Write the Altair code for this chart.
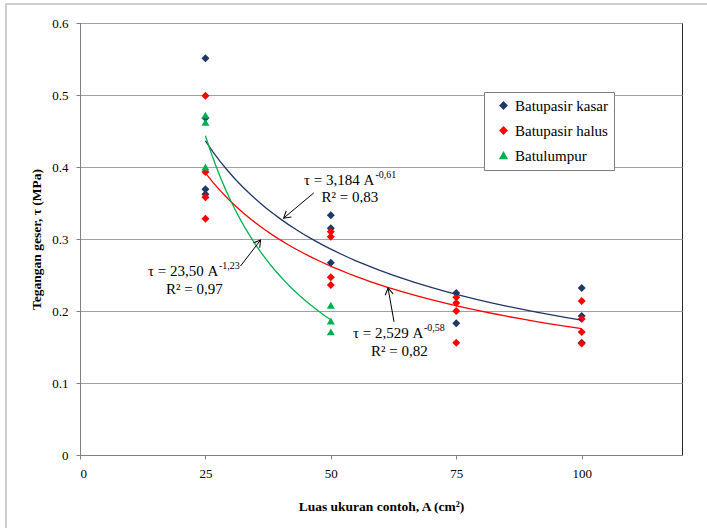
import math
import altair as alt
import pandas as pd

# ---------------- data ----------------
series_names = ["Batupasir kasar", "Batupasir halus", "Batulumpur"]
series_colors = ["#1F3864", "#FF0000", "#00B050"]
series_shapes = ["diamond", "diamond", "triangle-up"]

kasar_A = [25, 25, 25, 25, 50, 50, 50, 75, 75, 100, 100, 100]
kasar_tau = [0.551, 0.468, 0.369, 0.362, 0.333, 0.315, 0.267, 0.225, 0.183, 0.232, 0.193, 0.156]

halus_A = [25, 25, 25, 25, 50, 50, 50, 50, 75, 75, 75, 75, 100, 100, 100, 100]
halus_tau = [0.499, 0.393, 0.358, 0.328, 0.310, 0.303, 0.247, 0.236,
             0.219, 0.211, 0.200, 0.156, 0.214, 0.189, 0.171, 0.155]

lumpur_A = [25, 25, 25, 50, 50, 50]
lumpur_tau = [0.472, 0.462, 0.400, 0.208, 0.186, 0.171]

x_ticks = [0, 25, 50, 75, 100]
y_ticks = [0, 0.1, 0.2, 0.3, 0.4, 0.5, 0.6]

# annotations (equation texts)
label_text = ["τ = 3,184 A", "-0,61", "R² = 0,83",
              "τ = 23,50 A", "-1,23", "R² = 0,97",
              "τ = 2,529 A", "-0,58", "R² = 0,82"]
label_A = [44.65, 58.9, 48.16, 13.55, 27.71, 17.14, 54.42, 68.57, 58.01]
label_tau = [0.3819, 0.3889, 0.3583, 0.2556, 0.2625, 0.2306, 0.1694, 0.1764, 0.1444]
label_size = [15, 10, 15, 15, 10, 15, 15, 10, 15]

# arrows
arrow_tail_A = [46.6, 32.0, 62.6]
arrow_tail_tau = [0.364, 0.2625, 0.185]
arrow_head_A = [40.6, 36.0, 61.4]
arrow_head_tau = [0.329, 0.2986, 0.232]

# ---------------- layout ----------------
W, H = 602, 432
X_MAX, Y_MAX = 120, 0.6
FONT = "Liberation Serif"

points = pd.DataFrame({
    "A": kasar_A + halus_A + lumpur_A,
    "tau": kasar_tau + halus_tau + lumpur_tau,
    "series": [series_names[0]] * len(kasar_A)
    + [series_names[1]] * len(halus_A)
    + [series_names[2]] * len(lumpur_A),
})

labels = pd.DataFrame({"A": label_A, "tau": label_tau, "txt": label_text, "fs": label_size})

angles = []
for ta, tt, ha, ht in zip(arrow_tail_A, arrow_tail_tau, arrow_head_A, arrow_head_tau):
    dx = (ha - ta) * W / X_MAX
    dy = -(ht - tt) * H / Y_MAX
    angles.append(math.degrees(math.atan2(dy, dx)) % 360)
arrows = pd.DataFrame({"A": arrow_tail_A, "tau": arrow_tail_tau,
                       "A2": arrow_head_A, "tau2": arrow_head_tau, "ang": angles})

xscale = alt.Scale(domain=[0, X_MAX], nice=False, zero=True)
yscale = alt.Scale(domain=[0, Y_MAX], nice=False, zero=True)
color_scale = alt.Scale(domain=series_names, range=series_colors)
shape_scale = alt.Scale(domain=series_names, range=series_shapes)

x_enc = alt.X("A:Q", scale=xscale,
              axis=alt.Axis(title="Luas ukuran contoh, A (cm²)", values=x_ticks, grid=False,
                            tickSize=4, labelPadding=8, titlePadding=19, format="d",
                            labelFont=FONT, titleFont=FONT))
y_enc = alt.Y("tau:Q", scale=yscale,
              axis=alt.Axis(title="Tegangan geser, τ (MPa)", values=y_ticks, grid=True,
                            tickSize=4, labelPadding=8, titlePadding=8, format="~g",
                            labelFont=FONT, titleFont=FONT))

base_pts = alt.Chart(points)

pts = base_pts.mark_point(filled=True, opacity=1, size=64).encode(
    x=x_enc,
    y=y_enc,
    color=alt.Color("series:N", scale=color_scale, sort=series_names,
                    legend=alt.Legend(title=None, orient="none", legendX=404, legendY=69,
                                      strokeColor="#7f7f7f", padding=6, rowPadding=9,
                                      symbolOffset=6, labelOffset=4,
                                      labelFont=FONT, labelFontSize=15, labelColor="black",
                                      symbolSize=45, fillColor="white", labelLimit=200)),
    shape=alt.Shape("series:N", scale=shape_scale, sort=series_names),
)

trend = base_pts.transform_regression(
    "A", "tau", groupby=["series"], method="pow"
).mark_line(strokeWidth=1.3).encode(
    x=alt.X("A:Q", scale=xscale),
    y=alt.Y("tau:Q", scale=yscale),
    color=alt.Color("series:N", scale=color_scale, legend=None),
)

txt = alt.Chart(labels).mark_text(align="left", baseline="middle", font=FONT, color="black").encode(
    x=alt.X("A:Q", scale=xscale),
    y=alt.Y("tau:Q", scale=yscale),
    text="txt:N",
    size=alt.Size("fs:Q", scale=None),
)

arrow_lines = alt.Chart(arrows).mark_rule(color="black", strokeWidth=1).encode(
    x=alt.X("A:Q", scale=xscale),
    y=alt.Y("tau:Q", scale=yscale),
    x2="A2:Q",
    y2="tau2:Q",
)

arrow_heads = alt.Chart(arrows).mark_point(
    shape="M-1,-0.6L0,0L-1,0.6", filled=False, color="black", strokeWidth=1, size=180, opacity=1
).encode(
    x=alt.X("A2:Q", scale=xscale),
    y=alt.Y("tau2:Q", scale=yscale),
    angle=alt.Angle("ang:Q", scale=None),
)

frame_df = pd.DataFrame({"k": [0]})
frame = alt.Chart(frame_df).mark_rect(fill=None, stroke="#bfbfbf", strokeWidth=1.5).encode(
    x=alt.value(-74), x2=alt.value(W + 200), y=alt.value(-19), y2=alt.value(H + 200)
)

chart = alt.layer(frame, pts, trend, arrow_lines, arrow_heads, txt).properties(
    width=W, height=H,
    autosize=alt.AutoSizeParams(type="none"),
    padding={"left": 80, "top": 23, "right": 25, "bottom": 73},
    background="white",
).configure(
    font=FONT
).configure_view(
    stroke="#262626", strokeWidth=1
).configure_axis(
    labelFont=FONT, labelFontSize=13, labelColor="black",
    titleFont=FONT, titleFontSize=13.5, titleFontWeight="bold", titleColor="black",
    domainColor="#808080", tickColor="#808080", gridColor="#a0a0a0", gridWidth=1,
).configure_legend(
    labelFont=FONT
)

chart.save("out.html", embed_options={"renderer": "svg", "actions": False})
